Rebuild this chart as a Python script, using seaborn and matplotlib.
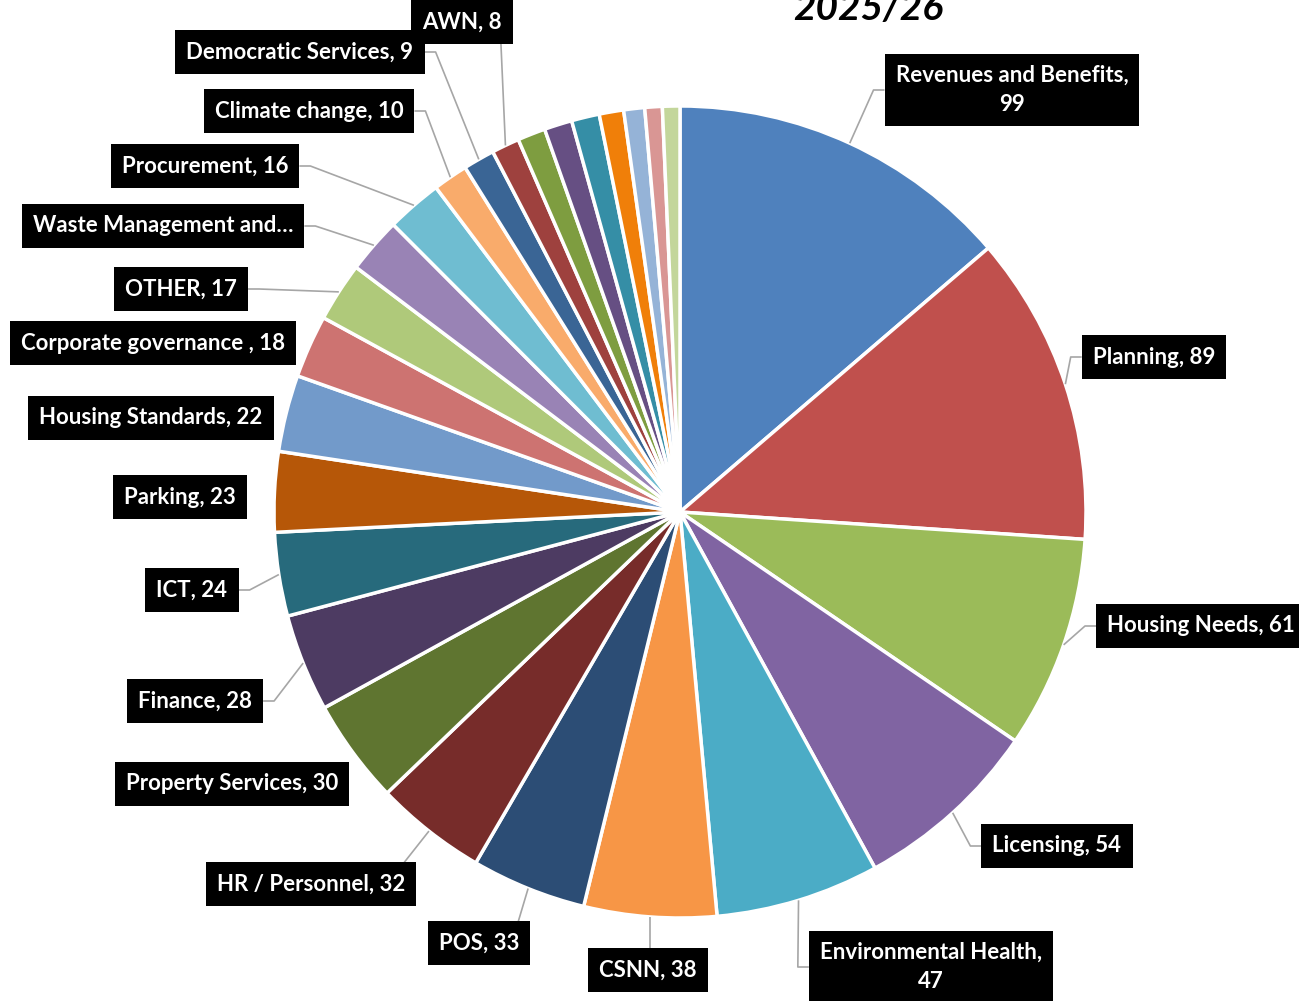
import numpy as np
import matplotlib
matplotlib.use("Agg")
from matplotlib import pyplot as plt
import seaborn as sns

# Categories and values (clockwise from 12 o'clock)
categories = [
    "Revenues and Benefits", "Planning", "Housing Needs", "Licensing",
    "Environmental Health", "CSNN", "POS", "HR / Personnel",
    "Property Services", "Finance", "ICT", "Parking", "Housing Standards",
    "Corporate governance ", "OTHER", "Waste Management and…", "Procurement",
    "Climate change", "Democratic Services", "AWN",
    "", "", "", "", "", "", "",
]
values = [99, 89, 61, 54, 47, 38, 33, 32, 30, 28, 24, 23, 22, 18, 17, 16, 16,
          10, 9, 8, 8, 8, 8, 7, 6, 5, 5]
labels = [
    "Revenues and Benefits,\n99", "Planning, 89", "Housing Needs, 61",
    "Licensing, 54", "Environmental Health,\n47", "CSNN, 38", "POS, 33",
    "HR / Personnel, 32", "Property Services, 30", "Finance, 28", "ICT, 24",
    "Parking, 23", "Housing Standards, 22", "Corporate governance , 18",
    "OTHER, 17", "Waste Management and…", "Procurement, 16",
    "Climate change, 10", "Democratic Services, 9", "AWN, 8",
    None, None, None, None, None, None, None,
]
colors = [
    "#4F81BD", "#C0504D", "#9BBB59", "#8064A2", "#4BACC6", "#F79646",
    "#2C4D75", "#772C2A", "#5F7530", "#4D3B62", "#276A7C", "#B65708",
    "#729ACA", "#CD7371", "#AFC97A", "#9983B5", "#6FBDD1", "#F9AB6B",
    "#3A6595", "#9E413E", "#7E9D40", "#664F83", "#358EA6", "#F07F09",
    "#95B3D7", "#D99694", "#C3D69B",
]

W, H = 1299, 1001
CX, CY, R = 680, 512, 406  # pixel coords, y from top


def fy(y):
    return H - y


# label box centres (pixel, y from top) and where the leader line attaches
label_layout = {
    0: ((1012, 90), "left"),
    1: ((1154, 357), "left"),
    2: ((1201, 626), "left"),
    3: ((1057, 846), "left"),
    4: ((931, 967), "left"),
    5: ((648, 970), "top"),
    6: ((479, 943), "top"),
    7: ((311, 884), "top"),
    8: ((232, 784), None),
    9: ((195, 701), "right"),
    10: ((192, 590), "right"),
    11: ((180, 497), None),
    12: ((151, 418), None),
    13: ((153, 343), None),
    14: ((181, 289), "right"),
    15: ((163, 226), "right"),
    16: ((205, 166), "right"),
    17: ((309, 111), "right"),
    18: ((300, 52), "right"),
    19: ((462, 22), "bottom"),
}

sns.set_style("white")
plt.rcParams["font.family"] = ["Lato", "DejaVu Sans"]

fig = plt.figure(figsize=(W / 100, H / 100), dpi=100)
ax = fig.add_axes([0, 0, 1, 1])

wedges, _ = ax.pie(values, colors=colors, startangle=90, counterclock=False,
                   center=(CX, fy(CY)), radius=R,
                   wedgeprops=dict(edgecolor="white", linewidth=2.5))
ax.set_xlim(0, W)
ax.set_ylim(0, H)
ax.set_aspect("equal")
ax.axis("off")

texts = {}
for i, lab in enumerate(labels):
    if lab is None:
        continue
    (tx, ty), mode = label_layout[i]
    texts[i] = ax.text(tx, fy(ty), lab, ha="center", va="center",
                       color="white", fontsize=16, fontweight="bold",
                       linespacing=1.5, zorder=5,
                       bbox=dict(boxstyle="square,pad=0.5", fc="black",
                                 ec="none"))

fig.canvas.draw()
renderer = fig.canvas.get_renderer()
inv = ax.transData.inverted()

for i, t in texts.items():
    mode = label_layout[i][1]
    if mode is None:
        continue
    w = wedges[i]
    mid = np.deg2rad((w.theta1 + w.theta2) / 2)
    px = CX + R * np.cos(mid)
    py = fy(CY) + R * np.sin(mid)
    bb = t.get_bbox_patch().get_window_extent(renderer)
    (x0, y0), (x1, y1) = inv.transform([[bb.x0, bb.y0], [bb.x1, bb.y1]])
    ym = (y0 + y1) / 2
    if mode == "left":
        xs, ys = [px, x0 - 11, x0], [py, ym, ym]
    elif mode == "right":
        xs, ys = [px, x1 + 11, x1], [py, ym, ym]
    elif mode == "top":
        ex = min(max(px, x0 + 12), x1 - 12)
        xs, ys = [px, ex], [py, y1]
    else:
        ex = min(max(px, x0 + 12), x1 - 12)
        xs, ys = [px, ex], [py, y0]
    ax.plot(xs, ys, color="#A6A6A6", lw=1.2, zorder=1, solid_capstyle="butt")

ax.text(868, fy(20), "2025/26", ha="center", va="baseline", fontsize=28,
        fontweight="bold", fontstyle="italic", color="black")

fig.savefig("out.png", dpi=100)
